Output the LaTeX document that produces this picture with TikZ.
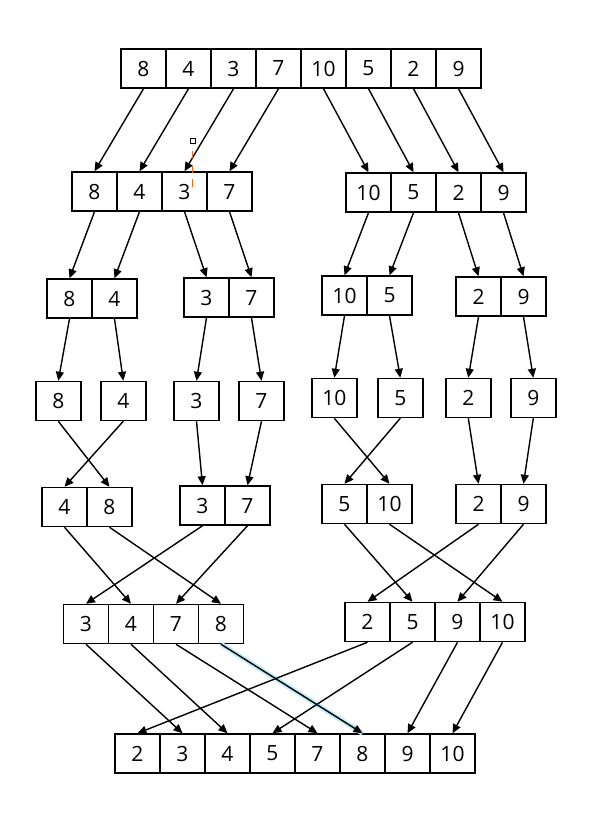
\documentclass[tikz,border=0pt]{standalone}
\usepackage{fontspec}
\setmainfont{Open Sans}
\usetikzlibrary{arrows.meta}
\definecolor{Glow}{HTML}{BDEBF7}
\definecolor{Mark}{HTML}{F26B1D}

\begin{document}
\begin{tikzpicture}[x=1pt, y=-1pt,
    cell/.style={draw, line width=1.5pt, minimum width=45pt, minimum height=39pt, inner sep=0pt, font=\fontsize{21}{21}\selectfont},
    arrow/.style={-{Triangle[length=9pt,width=8pt]}, line width=1.4pt}
  ]
    \useasboundingbox (0,0) rectangle (598,828);

    % split
    \foreach \v [count=\i] in {8,4,3,7,10,5,2,9}
      \node[cell] (s\i) at ({143.5+45*(\i-1)},68.5) {\v};
    \foreach \v [count=\i] in {8,4,3,7}
      \node[cell] (p\i) at ({94.5+45*(\i-1)},191.5) {\v};
    \foreach \v [count=\i] in {10,5,2,9}
      \node[cell] (q\i) at ({368.5+45*(\i-1)},192.5) {\v};
    \foreach \v/\px/\py [count=\i] in {8/69.5/298.5, 4/114.5/298.5, 3/206.5/297.5, 7/251.5/297.5,
        10/344.5/295.5, 5/389.5/295.5, 2/478.5/296.5, 9/523.5/296.5}
      \node[cell] (u\i) at (\px,\py) {\v};
    \foreach \v/\px/\py [count=\i] in {8/58.3/401, 4/123.3/401, 3/196.5/401, 7/261.5/401,
        10/334.3/398, 5/400.3/398, 2/468.3/398, 9/533.3/398}
      \node[cell] (v\i) at (\px,\py) {\v};

    % merge
    \foreach \v/\px/\py [count=\i] in {4/64.5/507, 8/109.5/507, 3/202.5/505.5, 7/247.5/505.5,
        5/344.5/504, 10/389.5/504, 2/478.5/504, 9/523.5/504}
      \node[cell] (w\i) at (\px,\py) {\v};
    \foreach \v [count=\i] in {3,4,7,8}
      \node[cell] (r\i) at ({86+45*(\i-1)},624) {\v};
    \foreach \v [count=\i from 5] in {2,5,9,10}
      \node[cell] (r\i) at ({367.5+45*(\i-5)},622) {\v};
    \foreach \v [count=\i] in {2,3,4,5,7,8,9,10}
      \node[cell] (z\i) at ({137.5+45*(\i-1)},753.5) {\v};

    \draw[line width=5pt, Glow] (r4.south) -- (z6.north);

    \foreach \i in {1,...,4} {
      \draw[arrow] (s\i.south) -- (p\i.north);
      \pgfmathtruncatemacro{\j}{\i+4}
      \draw[arrow] (s\j.south) -- (q\i.north);
      \draw[arrow] (p\i.south) -- (u\i.north);
      \draw[arrow] (q\i.south) -- (u\j.north);
    }
    \foreach \i in {1,...,8}
      \draw[arrow] (u\i.south) -- (v\i.north);

    \foreach \a/\b in {1/2, 2/1, 3/3, 4/4, 5/6, 6/5, 7/7, 8/8}
      \draw[arrow] (v\a.south) -- (w\b.north);
    \foreach \a/\b in {1/2, 2/4, 3/1, 4/3, 5/6, 6/8, 7/5, 8/7}
      \draw[arrow] (w\a.south) -- (r\b.north);
    \foreach \a/\b in {1/2, 2/3, 3/5, 4/6, 5/1, 6/4, 7/7, 8/8}
      \draw[arrow] (r\a.south) -- (z\b.north);

    \draw[line width=0.8pt] (190.7,138.3) rectangle (195.7,143.3);
    \draw[Mark, line width=1.2pt, dash pattern=on 7.6pt off 6.7pt] (192.3,150.7) -- (192.3,189.3);
  \end{tikzpicture}
\end{document}
